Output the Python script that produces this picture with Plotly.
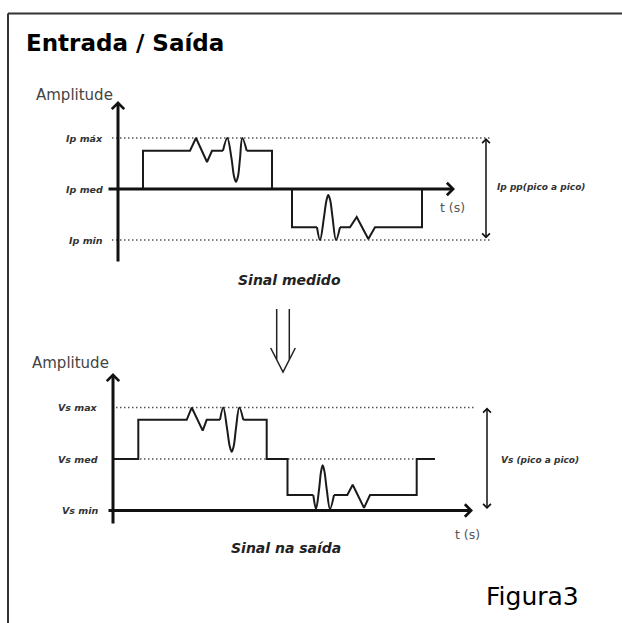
import plotly.graph_objects as go

W, H = 622, 623

# ---------------- data ----------------
# Top panel: measured input signal. t in arbitrary time units,
# amplitude normalised so that Ip max = 1, Ip med = 0, Ip min = -1
in_levels = [1, 0, -1]
in_level_labels = ["Ip máx", "Ip med", "Ip min"]
in_step_t = [2.5, 2.5, 7.2, 7.8, 8.9, 9.4, 10.5, None,
             12.87, 15.4, 15.4, 17.4, 17.4, 19.9, None,
             22.2, 23.2, 23.87, 25.03, 25.7, 30.4, 30.4]
in_step_a = [0, 0.75, 0.75, 1.0, 0.53, 0.75, 0.75, None,
             0.75, 0.75, 0, 0, -0.75, -0.75, None,
             -0.75, -0.75, -0.55, -0.98, -0.75, -0.75, 0]
in_osc1_t = [10.5, 10.93, 11.35, 11.6, 11.8, 12.0, 12.2, 12.43, 12.87]
in_osc1_a = [0.75, 1.0, 0.6, 0.25, 0.14, 0.25, 0.6, 1.0, 0.75]
in_osc2_t = [19.9, 20.2, 20.6, 20.85, 21.03, 21.22, 21.45, 21.8, 22.2]
in_osc2_a = [-0.75, -1.0, -0.55, -0.22, -0.12, -0.22, -0.55, -1.0, -0.75]

# Bottom panel: output signal. Vs min = 0, Vs med = 1, Vs max = 2
out_levels = [2, 1, 0]
out_level_labels = ["Vs max", "Vs med", "Vs min"]
out_step_t = [0, 2.53, 2.53, 7.37, 7.87, 8.97, 9.37, 10.7, None,
              13.03, 15.37, 15.37, 17.45, 17.45, 20.03, None,
              22.1, 23.43, 23.97, 25.1, 25.7, 30.37, 30.37, 32.2]
out_step_v = [1.0, 1.0, 1.76, 1.76, 2.0, 1.55, 1.76, 1.76, None,
              1.76, 1.76, 1.0, 1.0, 0.3, 0.3, None,
              0.3, 0.3, 0.5, 0.05, 0.3, 0.3, 1.0, 1.0]
out_osc1_t = [10.7, 11.03, 11.4, 11.67, 11.87, 12.07, 12.3, 12.63, 13.03]
out_osc1_v = [1.76, 2.0, 1.6, 1.25, 1.14, 1.25, 1.6, 2.0, 1.76]
out_osc2_t = [20.03, 20.3, 20.6, 20.8, 20.97, 21.15, 21.38, 21.7, 22.1]
out_osc2_v = [0.3, 0.03, 0.4, 0.75, 0.88, 0.75, 0.4, 0.03, 0.3]

title_text = "Entrada / Saída"
caption_in = "Sinal medido"
caption_out = "Sinal na saída"
pp_in = "Ip pp(pico a pico)"
pp_out = "Vs (pico a pico)"
axis_y_title = "Amplitude"
axis_x_title = "t (s)"
fig_label = "Figura3"

# ---------------- layout helpers ----------------
def PX(x):
    return x / W

def PY(y):
    return 1 - y / H

# pixel mapping of the two panels
T0, TS = 118, 10.0          # top: t=0 at px 118, 10 px per unit
A0, AS = 189, 51.0          # top: a=0 at px 189, 51 px per unit
B0, BS = 113, 10.0          # bottom time
V0, VS = 510.5, 51.5        # bottom amplitude

SIG = "#1a1a1a"
DOT = "#555555"
AX = "#111111"
FONT = "DejaVu Sans"

fig = go.Figure()

# dotted reference lines
dx, dy = [], []
for lv in in_levels:
    if lv != 0:
        dx += [-0.6, 37.2, None]
        dy += [lv, lv, None]
fig.add_trace(go.Scatter(x=dx, y=dy, mode="lines", xaxis="x", yaxis="y",
                         line=dict(color=DOT, width=1.5, dash="1.5px,2.5px"), hoverinfo="skip"))
dx, dy = [], []
for lv in out_levels:
    if lv == 2:
        dx += [0.3, 36.2, None]; dy += [lv, lv, None]
    elif lv == 1:
        dx += [0.3, 32.2, None]; dy += [lv, lv, None]
fig.add_trace(go.Scatter(x=dx, y=dy, mode="lines", xaxis="x2", yaxis="y2",
                         line=dict(color=DOT, width=1.5, dash="1.5px,2.5px"), hoverinfo="skip"))

# signals
for xs, ys, shape, ax_x, ax_y in [
    (in_step_t, in_step_a, "linear", "x", "y"),
    (in_osc1_t, in_osc1_a, "spline", "x", "y"),
    (in_osc2_t, in_osc2_a, "spline", "x", "y"),
    (out_step_t, out_step_v, "linear", "x2", "y2"),
    (out_osc1_t, out_osc1_v, "spline", "x2", "y2"),
    (out_osc2_t, out_osc2_v, "spline", "x2", "y2"),
]:
    fig.add_trace(go.Scatter(x=xs, y=ys, mode="lines", xaxis=ax_x, yaxis=ax_y,
                             line=dict(color=SIG, width=2, shape=shape), hoverinfo="skip"))

ann = []

def arrow(xr, yr, x, y, ax, ay, width=3, size=0.8, both=False):
    d = dict(xref=xr, yref=yr, axref=xr, ayref=yr, x=x, y=y, ax=ax, ay=ay,
             text="", showarrow=True, arrowhead=4, arrowwidth=width, arrowsize=size,
             arrowcolor=AX, standoff=0, startstandoff=0)
    if both:
        d["arrowside"] = "end+start"
        d["startarrowhead"] = 4
        d["startarrowsize"] = size
    ann.append(d)

# axes arrows
arrow("x", "y", 0, (A0 - 101) / AS, 0, (A0 - 263) / AS)
arrow("x", "y", (455 - T0) / TS, 0, (107 - T0) / TS, 0)
arrow("x2", "y2", 0, (V0 - 373) / VS, 0, (V0 - 525) / VS)
arrow("x2", "y2", (473 - B0) / BS, 0, (107 - B0) / BS, 0)
# peak-to-peak arrows
arrow("x", "y", 36.8, max(in_levels), 36.8, min(in_levels), width=1.5, size=1.0, both=True)
arrow("x2", "y2", 37.4, max(out_levels), 37.4, min(out_levels), width=1.5, size=1.0, both=True)

lab_font = dict(family=FONT, size=9.5, color="#333", style="italic", weight="bold")
for lv, lab in zip(in_levels, in_level_labels):
    ann.append(dict(xref="paper", yref="y", x=PX(105), y=lv, text=lab, showarrow=False,
                    xanchor="right", yanchor="middle", font=lab_font))
for lv, lab in zip(out_levels, out_level_labels):
    ann.append(dict(xref="paper", yref="y2", x=PX(100), y=lv, text=lab, showarrow=False,
                    xanchor="right", yanchor="middle", font=lab_font))

pp_font = dict(family=FONT, size=9, color="#333", style="italic", weight="bold")
ann.append(dict(xref="x", yref="y", x=37.7, y=0.04, text=pp_in, showarrow=False,
                xanchor="left", yanchor="middle", font=pp_font))
ann.append(dict(xref="x2", yref="y2", x=38.6, y=0.98, text=pp_out, showarrow=False,
                xanchor="left", yanchor="middle", font=pp_font))

tfont = dict(family=FONT, size=12.5, color="#555")
ann.append(dict(xref="x", yref="y", x=33.4, y=-0.37, text=axis_x_title, showarrow=False,
                xanchor="center", yanchor="middle", font=tfont))
ann.append(dict(xref="x2", yref="y2", x=35.4, y=-0.46, text=axis_x_title, showarrow=False,
                xanchor="center", yanchor="middle", font=tfont))

afont = dict(family=FONT, size=15, color="#444")
ann.append(dict(xref="paper", yref="paper", x=PX(74), y=PY(95), text=axis_y_title,
                showarrow=False, xanchor="center", yanchor="middle", font=afont))
ann.append(dict(xref="paper", yref="paper", x=PX(70), y=PY(363), text=axis_y_title,
                showarrow=False, xanchor="center", yanchor="middle", font=afont))

cfont = dict(family=FONT, size=14, color="#222", style="italic", weight="bold")
ann.append(dict(xref="paper", yref="paper", x=PX(289), y=PY(280), text=caption_in,
                showarrow=False, xanchor="center", yanchor="middle", font=cfont))
ann.append(dict(xref="paper", yref="paper", x=PX(286), y=PY(548), text=caption_out,
                showarrow=False, xanchor="center", yanchor="middle", font=cfont))

ann.append(dict(xref="paper", yref="paper", x=PX(24), y=PY(43), text=title_text,
                showarrow=False, xanchor="left", yanchor="middle",
                font=dict(family=FONT, size=23, color="#000", weight="bold")))
ann.append(dict(xref="paper", yref="paper", x=PX(484), y=PY(596), text=fig_label,
                showarrow=False, xanchor="left", yanchor="middle",
                font=dict(family=FONT, size=25, color="#000")))

shapes = [
    # frame
    dict(type="line", xref="paper", yref="paper", x0=PX(8), y0=PY(13.5), x1=PX(700), y1=PY(13.5),
         line=dict(color="#333", width=2)),
    dict(type="line", xref="paper", yref="paper", x0=PX(8), y0=PY(13.5), x1=PX(8), y1=PY(700),
         line=dict(color="#333", width=2)),
    # double down arrow
    dict(type="line", xref="paper", yref="paper", x0=PX(276.7), y0=PY(309), x1=PX(276.7), y1=PY(359.5),
         line=dict(color="#222", width=1.5)),
    dict(type="line", xref="paper", yref="paper", x0=PX(289.3), y0=PY(309), x1=PX(289.3), y1=PY(359.5),
         line=dict(color="#222", width=1.5)),
    dict(type="path", xref="paper", yref="paper",
         path=f"M {PX(270.7)},{PY(348)} L {PX(283)},{PY(372)} L {PX(295.3)},{PY(348)}",
         line=dict(color="#222", width=1.5)),
]

fig.update_layout(
    width=W, height=H, margin=dict(l=0, r=0, t=0, b=0),
    paper_bgcolor="white", plot_bgcolor="rgba(0,0,0,0)", showlegend=False,
    xaxis=dict(domain=[0, 1], range=[(0 - T0) / TS, (W - T0) / TS], visible=False, fixedrange=True),
    yaxis=dict(domain=[0, 1], range=[(A0 - H) / AS, A0 / AS], visible=False, fixedrange=True),
    xaxis2=dict(overlaying="x", anchor="y2", range=[(0 - B0) / BS, (W - B0) / BS], visible=False, fixedrange=True),
    yaxis2=dict(overlaying="y", anchor="x2", range=[(V0 - H) / VS, V0 / VS], visible=False, fixedrange=True),
    annotations=ann, shapes=shapes,
)

fig.write_html("out.html", config={"displayModeBar": False},
               post_script="document.body.style.margin='0';document.body.style.overflow='hidden';")
